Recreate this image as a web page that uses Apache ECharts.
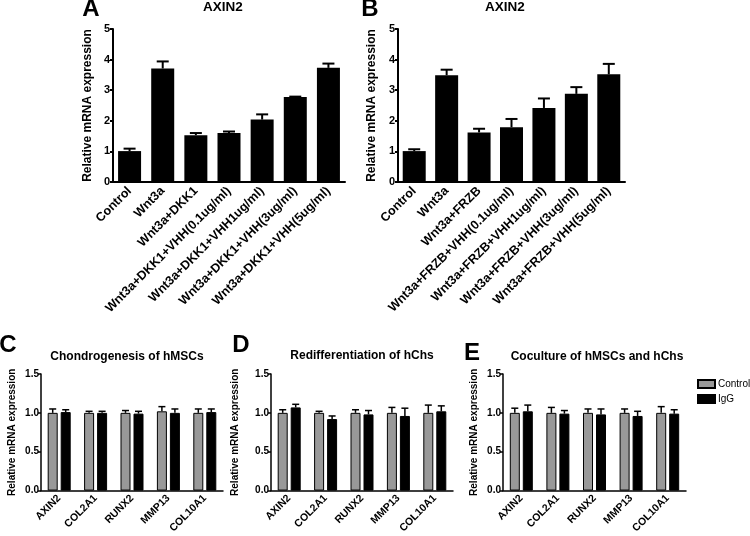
<!DOCTYPE html>
<html>
<head>
<meta charset="utf-8">
<script src="https://cdn.jsdelivr.net/npm/echarts@6/dist/echarts.min.js"></script>
<style>html,body{margin:0;padding:0;background:#fff;}#c{width:750px;height:536px;}</style>
</head>
<body>
<div id="c"></div>
<script>
// ---- data ----
const catsA = ['Control','Wnt3a','Wnt3a+DKK1','Wnt3a+DKK1+VHH(0.1ug/ml)','Wnt3a+DKK1+VHH1ug/ml)','Wnt3a+DKK1+VHH(3ug/ml)','Wnt3a+DKK1+VHH(5ug/ml)'];
const valsA = [1.01, 3.71, 1.53, 1.60, 2.04, 2.78, 3.73];
const errA  = [0.08, 0.23, 0.07, 0.05, 0.17, 0.01, 0.14];
const catsB = ['Control','Wnt3a','Wnt3a+FRZB','Wnt3a+FRZB+VHH(0.1ug/ml)','Wnt3a+FRZB+VHH1ug/ml)','Wnt3a+FRZB+VHH(3ug/ml)','Wnt3a+FRZB+VHH(5ug/ml)'];
const valsB = [1.01, 3.49, 1.62, 1.79, 2.42, 2.88, 3.52];
const errB  = [0.06, 0.18, 0.12, 0.27, 0.31, 0.22, 0.34];
const yTicksTop = [0, 1, 2, 3, 4, 5];

const genes = ['AXIN2','COL2A1','RUNX2','MMP13','COL10A1'];
const ctrlC = [1.00, 1.00, 1.00, 1.02, 1.00];
const ctrlCErr = [0.05, 0.02, 0.03, 0.06, 0.05];
const iggC = [1.01, 1.00, 0.99, 1.00, 1.01];
const iggCErr = [0.03, 0.02, 0.03, 0.05, 0.04];
const ctrlD = [1.00, 1.00, 1.00, 1.00, 1.00];
const ctrlDErr = [0.04, 0.02, 0.04, 0.07, 0.10];
const iggD = [1.07, 0.92, 0.98, 0.96, 1.02];
const iggDErr = [0.04, 0.04, 0.05, 0.10, 0.07];
const ctrlE = [1.00, 1.00, 1.00, 1.00, 1.00];
const ctrlEErr = [0.06, 0.07, 0.05, 0.05, 0.08];
const iggE = [1.02, 0.99, 0.98, 0.96, 0.99];
const iggEErr = [0.08, 0.04, 0.07, 0.06, 0.05];
const yTicksBottom = [0, 0.5, 1.0, 1.5];

// ---- styling ----
const FF = '"Liberation Sans", Arial, Helvetica, sans-serif';
const GRAY = '#999999';

const chart = echarts.init(document.getElementById('c'), null, {renderer: 'canvas'});

function errSeries(ai, vals, errs, offset, capW, lw) {
  return {
    type: 'custom', xAxisIndex: ai, yAxisIndex: ai, z: 5, silent: true,
    data: vals.map((v, i) => [i, v, v + errs[i]]),
    encode: {x: 0, y: [1, 2]},
    renderItem: function (params, api) {
      const p0 = api.coord([api.value(0), api.value(1)]);
      const p1 = api.coord([api.value(0), api.value(2)]);
      const x = p0[0] + offset;
      return {type: 'group', children: [
        {type: 'line', shape: {x1: x, y1: p0[1], x2: x, y2: p1[1]}, style: {stroke: '#000', lineWidth: lw}},
        {type: 'line', shape: {x1: x - capW / 2, y1: p1[1], x2: x + capW / 2, y2: p1[1]}, style: {stroke: '#000', lineWidth: lw}}
      ]};
    }
  };
}

function topX(gi, cats) {
  return {
    type: 'category', gridIndex: gi, data: cats,
    axisLine: {lineStyle: {color: '#000', width: 2}},
    axisTick: {alignWithLabel: true, length: 4, lineStyle: {color: '#000', width: 2}},
    axisLabel: {rotate: 45, color: '#000', fontFamily: FF, fontWeight: 'bold', fontSize: 12.5, margin: 7, interval: 0}
  };
}
function topY(gi, gap) {
  return {
    type: 'value', gridIndex: gi, min: yTicksTop[0], max: yTicksTop[yTicksTop.length - 1], interval: 1,
    splitLine: {show: false},
    axisLine: {show: true, lineStyle: {color: '#000', width: 2}},
    axisTick: {show: true, length: 3, lineStyle: {color: '#000', width: 2}},
    axisLabel: {color: '#000', fontFamily: FF, fontWeight: 'bold', fontSize: 11, margin: 3},
    name: 'Relative mRNA expression', nameLocation: 'middle', nameGap: gap,
    nameTextStyle: {color: '#000', fontFamily: FF, fontWeight: 'bold', fontSize: 12}
  };
}
function botX(gi) {
  return {
    type: 'category', gridIndex: gi, data: genes,
    axisLine: {lineStyle: {color: '#000', width: 1.5}},
    axisTick: {alignWithLabel: true, length: 4, lineStyle: {color: '#000', width: 1.5}},
    axisLabel: {rotate: 45, color: '#000', fontFamily: FF, fontWeight: 'bold', fontSize: 10.5, margin: 6, interval: 0}
  };
}
function botY(gi, gap) {
  return {
    type: 'value', gridIndex: gi, min: yTicksBottom[0], max: yTicksBottom[yTicksBottom.length - 1], interval: 0.5,
    splitLine: {show: false},
    axisLine: {show: true, lineStyle: {color: '#000', width: 1.5}},
    axisTick: {show: true, length: 3, lineStyle: {color: '#000', width: 1.5}},
    axisLabel: {color: '#000', fontFamily: FF, fontWeight: 'bold', fontSize: 10, margin: 2,
      formatter: v => v.toFixed(1)},
    name: 'Relative mRNA expression', nameLocation: 'middle', nameGap: gap,
    nameTextStyle: {color: '#000', fontFamily: FF, fontWeight: 'bold', fontSize: 10}
  };
}

const BW = 10, BGAP = 3;
const OFF = (BW + BGAP) / 2;
function pairSeries(ai, ctrl, ctrlErr, igg, iggErr) {
  return [
    {name: 'Control', type: 'bar', xAxisIndex: ai, yAxisIndex: ai, data: ctrl, barWidth: BW, barGap: (BGAP / BW * 100) + '%',
      itemStyle: {color: GRAY, borderColor: '#000', borderWidth: 1}},
    {name: 'IgG', type: 'bar', xAxisIndex: ai, yAxisIndex: ai, data: igg, barWidth: BW,
      itemStyle: {color: '#000', borderColor: '#000', borderWidth: 1}},
    errSeries(ai, ctrl, ctrlErr, -OFF, 7, 1.5),
    errSeries(ai, igg, iggErr, OFF, 7, 1.5)
  ];
}

function txt(x, y, s, size, align) {
  return {type: 'text', x: x, y: y, style: {text: s, fill: '#000', font: 'bold ' + size + 'px ' + FF, textAlign: align || 'center', textVerticalAlign: 'middle'}};
}

const option = {
  animation: false,
  backgroundColor: '#fff',
  grid: [
    {left: 113, top: 29, width: 232, height: 153},
    {left: 398, top: 29, width: 227, height: 153},
    {left: 41, top: 374, width: 182, height: 122},
    {left: 271, top: 374, width: 182, height: 122},
    {left: 503, top: 374, width: 183, height: 122}
  ],
  xAxis: [topX(0, catsA), topX(1, catsB), botX(2), botX(3), botX(4)],
  yAxis: [topY(0, 19), topY(1, 20), botY(2, 24), botY(3, 31), botY(4, 24)],
  legend: {
    data: ['Control', 'IgG'], orient: 'vertical', left: 697, top: 379,
    itemWidth: 17, itemHeight: 8, itemGap: 5, icon: 'rect', padding: 0,
    textStyle: {color: '#000', fontFamily: FF, fontSize: 10, padding: [0, 0, 0, -2]}
  },
  graphic: [
    txt(91, 9, 'A', 24), txt(370, 9, 'B', 24),
    txt(223, 7, 'AXIN2', 13.5), txt(505, 7, 'AXIN2', 13.5),
    txt(8, 345, 'C', 24), txt(241, 345, 'D', 24), txt(472, 353, 'E', 24),
    txt(127, 357, 'Chondrogenesis of hMSCs', 12),
    txt(362, 356, 'Redifferentiation of hChs', 12),
    txt(597, 357, 'Coculture of hMSCs and hChs', 12)
  ],
  series: [
    {type: 'bar', xAxisIndex: 0, yAxisIndex: 0, data: valsA, barWidth: 23, itemStyle: {color: '#000'}},
    errSeries(0, valsA, errA, 0, 12, 2),
    {type: 'bar', xAxisIndex: 1, yAxisIndex: 1, data: valsB, barWidth: 23, itemStyle: {color: '#000'}},
    errSeries(1, valsB, errB, 0, 12, 2),
    ...pairSeries(2, ctrlC, ctrlCErr, iggC, iggCErr),
    ...pairSeries(3, ctrlD, ctrlDErr, iggD, iggDErr),
    ...pairSeries(4, ctrlE, ctrlEErr, iggE, iggEErr)
  ]
};
chart.setOption(option);
</script>
</body>
</html>
